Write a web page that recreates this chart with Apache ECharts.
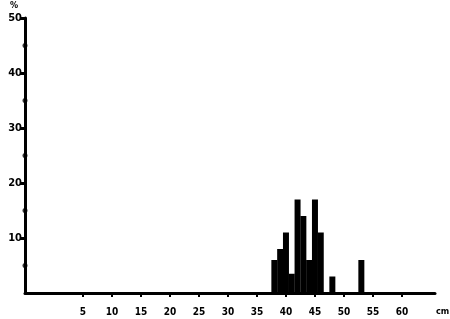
<!DOCTYPE html>
<html>
<head>
<meta charset="utf-8">
<script src="https://cdn.jsdelivr.net/npm/echarts@6/dist/echarts.min.js"></script>
<style>html,body{margin:0;padding:0;background:#fff;}#c{width:450px;height:319px;}</style>
</head>
<body>
<div id="c"></div>
<script>
var lengths = [38, 39, 40, 41, 42, 43, 44, 45, 46, 48, 53];
var percents = [6, 8, 11, 3.5, 17, 14, 6, 17, 11, 3, 6];
var xTickValues = [5, 10, 15, 20, 25, 30, 35, 40, 45, 50, 55, 60];
var yLabelValues = [10, 20, 30, 40, 50];
var yDotValues = [5, 15, 25, 35, 45];

var FONT = '"Liberation Sans Narrow", "DejaVu Sans Condensed", sans-serif';
var chart = echarts.init(document.getElementById('c'), null, {renderer: 'canvas'});
var barData = lengths.map(function (l, i) { return [l, percents[i]]; });
var dotData = yDotValues.map(function (v) { return [-5, v]; });

chart.setOption({
  animation: false,
  backgroundColor: '#fff',
  grid: {left: 25, right: 15, top: 18, bottom: 26, containLabel: false, outerBoundsMode: 'none'},
  xAxis: {
    type: 'value', min: -5, max: 65.7, interval: 5,
    splitLine: {show: false},
    axisLine: {show: true, onZero: false, lineStyle: {color: '#000', width: 3}},
    axisTick: {show: true, customValues: xTickValues, length: 4, inside: false, lineStyle: {color: '#000', width: 2}},
    axisLabel: {customValues: xTickValues, color: '#000', fontFamily: FONT, fontWeight: 'bold', fontSize: 10, margin: 14}
  },
  yAxis: {
    type: 'value', min: 0, max: 50, interval: 10,
    splitLine: {show: false},
    axisLine: {show: true, onZero: false, lineStyle: {color: '#000', width: 3}},
    axisTick: {show: true, customValues: yLabelValues, length: 5, lineStyle: {color: '#000', width: 3}},
    axisLabel: {customValues: yLabelValues, color: '#000', fontFamily: FONT, fontWeight: 'bold', fontSize: 11, margin: 3}
  },
  series: [
    {
      type: 'bar', data: barData, barWidth: 6, barGap: '-100%',
      itemStyle: {color: '#000'}, silent: true
    },
    {
      type: 'scatter', data: dotData, symbol: 'circle', symbolSize: 5, clip: false,
      itemStyle: {color: '#000'}, silent: true
    }
  ],
  graphic: [
    {type: 'text', left: 10, top: 1, style: {text: '%', fill: '#000', font: 'bold 9px ' + FONT}},
    {type: 'text', left: 436, top: 307, style: {text: 'cm', fill: '#000', font: 'bold 9px ' + FONT}}
  ]
});
</script>
</body>
</html>
